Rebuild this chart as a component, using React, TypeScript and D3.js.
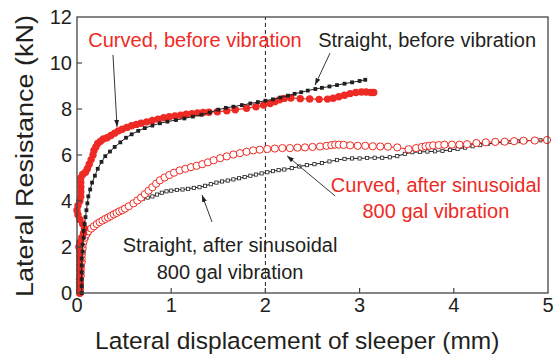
import React from "react";
import * as d3 from "d3";

type P = [number, number];

const xTicks = [0, 1, 2, 3, 4, 5];
const yTicks = [0, 2, 4, 6, 8, 10, 12];

const curvedBefore: P[] = [
  [0.03, 0], [0.03, 0.2], [0.03, 0.4], [0.03, 0.6], [0.03, 0.8], [0.03, 1.0], [0.03, 1.2], [0.03, 1.4],
  [0.03, 1.6], [0.03, 1.8], [0.02, 2.0], [0.03, 2.2], [0.05, 2.4], [0.07, 2.6], [0.08, 2.8], [0.06, 3.0],
  [0.03, 3.2], [0.01, 3.4], [0.0, 3.6], [0.01, 3.8], [0.03, 4.0], [0.04, 4.2], [0.04, 4.4], [0.04, 4.6],
  [0.04, 4.8], [0.04, 5.0], [0.06, 5.15], [0.09, 5.25], [0.11, 5.4], [0.13, 5.6], [0.15, 5.8], [0.17, 6.0],
  [0.18, 6.2], [0.2, 6.35], [0.22, 6.5], [0.25, 6.6], [0.28, 6.7], [0.32, 6.75], [0.36, 6.85], [0.4, 6.95],
  [0.44, 7.05], [0.48, 7.12], [0.53, 7.2], [0.58, 7.27], [0.63, 7.33], [0.68, 7.38], [0.74, 7.44], [0.8, 7.5],
  [0.86, 7.56], [0.92, 7.62], [0.98, 7.66], [1.04, 7.7], [1.1, 7.73], [1.16, 7.77], [1.22, 7.8], [1.28, 7.83],
  [1.34, 7.85], [1.4, 7.86], [1.49, 7.88], [1.59, 7.92], [1.68, 7.97], [1.8, 8.03], [1.9, 8.1], [1.98, 8.17],
  [2.05, 8.24], [2.1, 8.32], [2.15, 8.4], [2.2, 8.46], [2.27, 8.48], [2.37, 8.45], [2.47, 8.44], [2.57, 8.42],
  [2.66, 8.43], [2.72, 8.47], [2.78, 8.53], [2.84, 8.6], [2.9, 8.67], [2.96, 8.72], [3.02, 8.74], [3.07, 8.74],
  [3.12, 8.72], [3.15, 8.72],
];

const straightBefore: P[] = [
  [0.05, 0], [0.05, 0.3], [0.05, 0.6], [0.05, 0.9], [0.05, 1.2], [0.05, 1.5], [0.06, 1.8], [0.06, 2.1],
  [0.07, 2.4], [0.07, 2.7], [0.08, 3.0], [0.09, 3.3], [0.1, 3.6], [0.11, 3.9], [0.12, 4.2], [0.14, 4.5],
  [0.16, 4.8], [0.19, 5.1], [0.22, 5.4], [0.26, 5.7], [0.3, 5.95], [0.35, 6.15], [0.4, 6.35], [0.46, 6.55],
  [0.52, 6.75], [0.58, 6.9], [0.65, 7.05], [0.72, 7.17], [0.8, 7.28], [0.88, 7.38], [0.96, 7.45], [1.05, 7.52],
  [1.14, 7.59], [1.23, 7.67], [1.32, 7.75], [1.41, 7.85], [1.5, 7.97], [1.58, 8.05], [1.66, 8.1], [1.75, 8.17],
  [1.84, 8.24], [1.92, 8.3], [2.0, 8.36], [2.08, 8.42], [2.16, 8.5], [2.24, 8.58], [2.31, 8.66], [2.38, 8.73],
  [2.45, 8.8], [2.53, 8.87], [2.6, 8.92], [2.68, 8.98], [2.76, 9.04], [2.84, 9.1], [2.92, 9.16], [3.0, 9.22],
  [3.06, 9.27],
];

const curvedAfter: P[] = [
  [0.03, 0], [0.03, 0.15], [0.03, 0.3], [0.03, 0.45], [0.03, 0.6], [0.04, 0.75], [0.04, 0.9], [0.04, 1.05],
  [0.04, 1.2], [0.05, 1.35], [0.05, 1.5], [0.05, 1.65], [0.05, 1.8], [0.06, 1.95], [0.06, 2.1], [0.07, 2.25],
  [0.08, 2.4], [0.1, 2.55], [0.12, 2.68], [0.15, 2.8], [0.18, 2.9], [0.21, 3.0], [0.24, 3.08], [0.27, 3.15],
  [0.3, 3.22], [0.33, 3.28], [0.36, 3.35], [0.39, 3.42], [0.42, 3.48], [0.45, 3.55], [0.48, 3.6], [0.51, 3.67],
  [0.55, 3.77], [0.6, 3.9], [0.64, 4.02], [0.68, 4.15], [0.72, 4.3], [0.76, 4.45], [0.8, 4.6], [0.84, 4.75],
  [0.88, 4.9], [0.93, 5.02], [0.98, 5.13], [1.03, 5.23], [1.09, 5.33], [1.15, 5.4], [1.21, 5.47], [1.27, 5.53],
  [1.33, 5.6], [1.39, 5.68], [1.45, 5.77], [1.52, 5.86], [1.59, 5.94], [1.66, 6.02], [1.73, 6.08], [1.8, 6.14],
  [1.87, 6.2], [1.94, 6.23], [2.02, 6.26], [2.1, 6.28], [2.18, 6.3], [2.26, 6.3], [2.34, 6.32], [2.42, 6.33],
  [2.5, 6.35], [2.58, 6.37], [2.65, 6.4], [2.7, 6.43], [2.74, 6.45], [2.78, 6.45], [2.83, 6.44], [2.9, 6.42],
  [2.98, 6.4], [3.06, 6.4], [3.14, 6.38], [3.22, 6.37], [3.3, 6.36], [3.4, 6.33], [3.52, 6.25], [3.6, 6.3],
  [3.66, 6.35], [3.7, 6.38], [3.74, 6.4], [3.78, 6.42], [3.84, 6.43], [3.9, 6.45], [3.98, 6.45], [4.06, 6.45],
  [4.14, 6.47], [4.24, 6.52], [4.34, 6.55], [4.44, 6.57], [4.54, 6.58], [4.64, 6.6], [4.74, 6.62], [4.86, 6.63],
  [4.99, 6.65],
];

const straightAfter: P[] = [
  [0.05, 0], [0.05, 0.2], [0.05, 0.4], [0.05, 0.6], [0.05, 0.8], [0.05, 1.0], [0.06, 1.2], [0.06, 1.4],
  [0.06, 1.6], [0.07, 1.8], [0.07, 2.0], [0.08, 2.2], [0.1, 2.4], [0.12, 2.6], [0.15, 2.8], [0.18, 2.92],
  [0.22, 3.03], [0.26, 3.13], [0.3, 3.22], [0.34, 3.31], [0.38, 3.4], [0.42, 3.5], [0.46, 3.6], [0.5, 3.69],
  [0.54, 3.79], [0.58, 3.88], [0.62, 3.96], [0.66, 4.03], [0.7, 4.09], [0.75, 4.15], [0.8, 4.2], [0.85, 4.28],
  [0.9, 4.36], [0.95, 4.42], [1.0, 4.45], [1.06, 4.48], [1.12, 4.5], [1.18, 4.53], [1.24, 4.57], [1.3, 4.6],
  [1.36, 4.66], [1.42, 4.73], [1.48, 4.8], [1.54, 4.85], [1.6, 4.89], [1.66, 4.94], [1.72, 4.99], [1.78, 5.04],
  [1.84, 5.1], [1.9, 5.15], [1.96, 5.2], [2.02, 5.25], [2.08, 5.3], [2.14, 5.34], [2.2, 5.37], [2.28, 5.43],
  [2.36, 5.5], [2.44, 5.56], [2.52, 5.6], [2.6, 5.65], [2.68, 5.72], [2.76, 5.78], [2.84, 5.83], [2.92, 5.85],
  [3.0, 5.85], [3.08, 5.87], [3.16, 5.88], [3.24, 5.88], [3.32, 5.9], [3.4, 5.95], [3.48, 6.05], [3.56, 6.12],
  [3.64, 6.13], [3.72, 6.15], [3.8, 6.16], [3.88, 6.18], [3.96, 6.22], [4.04, 6.26], [4.12, 6.32], [4.2, 6.38],
  [4.28, 6.43], [4.36, 6.48], [4.44, 6.52], [4.52, 6.55], [4.6, 6.57], [4.68, 6.6], [4.76, 6.62], [4.84, 6.63],
  [4.92, 6.64], [4.99, 6.65],
];

// annotations: label lines, anchor (data units), arrow from -> to (data units)
const annoLabels = [
  { lines: ["Curved, before vibration"], at: [0.12, 10.7] as P, anchor: "start", red: true },
  { lines: ["Straight, before vibration"], at: [2.56, 10.7] as P, anchor: "start", red: false },
  { lines: ["Curved, after sinusoidal", "800 gal vibration"], at: [3.81, 4.4] as P, anchor: "middle", red: true },
  { lines: ["Straight, after sinusoidal", "800 gal vibration"], at: [1.625, 1.78] as P, anchor: "middle", red: false },
];
const annoArrows: [P, P][] = [
  [[0.382, 10.35], [0.425, 7.22]],
  [[2.686, 10.43], [2.527, 9.04]],
  [[2.74, 4.22], [2.23, 5.96]],
  [[1.433, 3.09], [1.327, 4.26]],
];

const RED = "#ee2a24";
const INK = "#231f20";
const FONT = "'Liberation Sans', Arial, Helvetica, sans-serif";

export default function App() {
  const W = 560, H = 356;
  const x = d3.scaleLinear().domain([0, 5]).range([77, 548]);
  const y = d3.scaleLinear().domain([0, 12]).range([293, 17]);
  const line = d3.line<P>().x((d) => x(d[0])).y((d) => y(d[1]));

  return (
    <svg width={W} height={H} style={{ position: "absolute", left: 0, top: 0, background: "#fff" }} fontFamily={FONT}>
      <defs>
        <marker id="ah" viewBox="0 0 10 10" refX="10" refY="5" markerWidth="7" markerHeight="7" orient="auto" markerUnits="userSpaceOnUse">
          <path d="M0,1.5 L10,5 L0,8.5 Z" fill={INK} />
        </marker>
      </defs>
      <rect x={0} y={0} width={W} height={H} fill="#fff" />

      {/* dashed reference */}
      <line x1={x(2)} x2={x(2)} y1={y(0)} y2={y(12)} stroke={INK} strokeWidth={1} strokeDasharray="4,3" />

      {/* Straight, after: open small squares */}
      <path d={line(straightAfter) || ""} fill="none" stroke={INK} strokeWidth={1} />
      {straightAfter.map((d, i) => (
        <rect key={"sa" + i} x={x(d[0]) - 1.6} y={y(d[1]) - 1.6} width={3.2} height={3.2} fill="#fff" stroke={INK} strokeWidth={0.8} />
      ))}

      {/* Curved, after: open circles */}
      <path d={line(curvedAfter) || ""} fill="none" stroke={RED} strokeWidth={1} />
      {curvedAfter.map((d, i) => (
        <circle key={"ca" + i} cx={x(d[0])} cy={y(d[1])} r={3.6} fill="#fff" stroke={RED} strokeWidth={1} />
      ))}

      {/* Curved, before: filled circles */}
      <path d={line(curvedBefore) || ""} fill="none" stroke={RED} strokeWidth={1.2} />
      {curvedBefore.map((d, i) => (
        <circle key={"cb" + i} cx={x(d[0])} cy={y(d[1])} r={3.7} fill={RED} />
      ))}

      {/* Straight, before: filled squares */}
      <path d={line(straightBefore) || ""} fill="none" stroke={INK} strokeWidth={1} />
      {straightBefore.map((d, i) => (
        <rect key={"sb" + i} x={x(d[0]) - 1.9} y={y(d[1]) - 1.9} width={3.8} height={3.8} fill={INK} />
      ))}

      {/* frame */}
      <rect x={x(0)} y={y(12)} width={x(5) - x(0)} height={y(0) - y(12)} fill="none" stroke="#444" strokeWidth={1.3} />

      {/* ticks */}
      {xTicks.slice(1, -1).map((t) => (
        <line key={"xt" + t} x1={x(t)} x2={x(t)} y1={y(0)} y2={y(0) - 5} stroke="#444" strokeWidth={1.2} />
      ))}
      {yTicks.slice(1, -1).map((t) => (
        <line key={"yt" + t} x1={x(0)} x2={x(0) + 5} y1={y(t)} y2={y(t)} stroke="#444" strokeWidth={1.2} />
      ))}
      {xTicks.map((t) => (
        <text key={"xl" + t} x={x(t)} y={y(0) + 19} textAnchor="middle" fontSize={20} fill={INK}>{t}</text>
      ))}
      {yTicks.map((t) => (
        <text key={"yl" + t} x={x(0) - 5} y={y(t) + 7} textAnchor="end" fontSize={20} fill={INK}>{t}</text>
      ))}

      {/* axis titles */}
      <text x={95} y={349} fontSize={24.5} fill={INK}>Lateral displacement of sleeper (mm)</text>
      <text transform={`translate(33,297) rotate(-90)`} fontSize={23} fill={INK} textLength={282} lengthAdjust="spacingAndGlyphs">Lateral Resistance (kN)</text>

      {/* annotations */}
      {annoArrows.map((a, i) => (
        <line key={"ar" + i} x1={x(a[0][0])} y1={y(a[0][1])} x2={x(a[1][0])} y2={y(a[1][1])} stroke={INK} strokeWidth={0.9} markerEnd="url(#ah)" />
      ))}
      {annoLabels.map((l, i) => (
        <text key={"an" + i} x={x(l.at[0])} y={y(l.at[1])} textAnchor={l.anchor} fontSize={20} fill={l.red ? RED : INK}>
          {l.lines.map((s, j) => (
            <tspan key={j} x={x(l.at[0])} dy={j === 0 ? 0 : 26.5}>{s}</tspan>
          ))}
        </text>
      ))}
    </svg>
  );
}
